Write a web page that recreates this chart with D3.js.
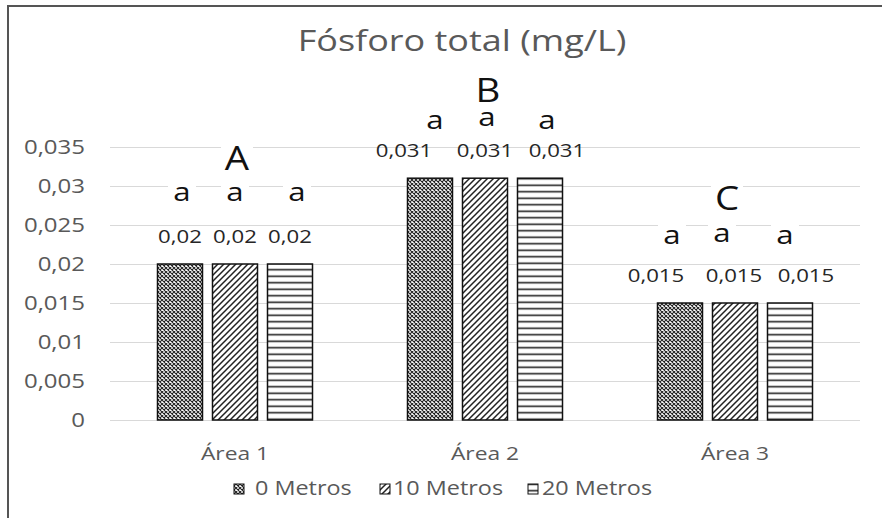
<!DOCTYPE html>
<html>
<head>
<meta charset="utf-8">
<script src="https://cdn.jsdelivr.net/npm/d3@7"></script>
<style>
  html, body { margin: 0; padding: 0; background: #fff; }
  svg { display: block; font-family: "Open Sans", Lato, sans-serif; }
</style>
</head>
<body>
<svg id="chart" width="882" height="518"></svg>
<script>
// Total phosphorus by area and distance
const categories = ["Área 1", "Área 2", "Área 3"];
const seriesNames = ["0 Metros", "10 Metros", "20 Metros"];
const values0m = [0.02, 0.031, 0.015];
const values10m = [0.02, 0.031, 0.015];
const values20m = [0.02, 0.031, 0.015];
const groupLetters = ["A", "B", "C"];
const barLetters = [["a", "a", "a"], ["a", "a", "a"], ["a", "a", "a"]];
const yTicks = [0, 0.005, 0.01, 0.015, 0.02, 0.025, 0.03, 0.035];
const titleText = "Fósforo total (mg/L)";

const seriesValues = [values0m, values10m, values20m];
const fmt = v => String(v).replace(".", ",");
const SX = 1.2; // horizontal widening of all lettering

const svg = d3.select("#chart");
const W = 882, H = 518;
const plot = { left: 110, right: 860, top: 147, bottom: 420 };

function label(parent, x, y, txt, size, color, anchor) {
  return parent.append("text")
    .attr("transform", `translate(${x},${y}) scale(${SX},1)`)
    .attr("text-anchor", anchor || "middle")
    .attr("font-size", size).attr("fill", color).text(txt);
}

// Frame (left and top edges)
svg.append("path")
  .attr("d", `M8,${H} L8,6 L${W},6`)
  .attr("fill", "none").attr("stroke", "#555").attr("stroke-width", 2);

// Hatch patterns
const defs = svg.append("defs");
const p0 = defs.append("pattern").attr("id", "pat0").attr("patternUnits", "userSpaceOnUse")
  .attr("width", 4).attr("height", 4);
p0.append("rect").attr("width", 4).attr("height", 4).attr("fill", "#fff");
p0.append("path").attr("d", "M0,0 L4,4 M4,0 L0,4").attr("stroke", "#222").attr("stroke-width", 1.1);
const p1 = defs.append("pattern").attr("id", "pat1").attr("patternUnits", "userSpaceOnUse")
  .attr("width", 6).attr("height", 6);
p1.append("rect").attr("width", 6).attr("height", 6).attr("fill", "#fff");
p1.append("path").attr("d", "M-1,7 L7,-1 M-1,1 L1,-1 M5,7 L7,5").attr("stroke", "#222").attr("stroke-width", 1.5);
const p2 = defs.append("pattern").attr("id", "pat2").attr("patternUnits", "userSpaceOnUse")
  .attr("width", 6).attr("height", 6.5);
p2.append("rect").attr("width", 6).attr("height", 6.5).attr("fill", "#fff");
p2.append("path").attr("d", "M0,3.25 L6,3.25").attr("stroke", "#222").attr("stroke-width", 1.6);
const patIds = ["url(#pat0)", "url(#pat1)", "url(#pat2)"];

// Scales
const y = d3.scaleLinear().domain([0, 0.035]).range([plot.bottom, plot.top]);
const x0 = d3.scaleBand().domain(categories).range([plot.left, plot.right]).padding(0);
const groupWidth = 155;
const x1 = d3.scaleBand().domain(seriesNames)
  .range([(x0.bandwidth() - groupWidth) / 2, (x0.bandwidth() + groupWidth) / 2])
  .paddingInner(10 / 55).paddingOuter(0);

// Gridlines
svg.append("g").selectAll("line").data(yTicks).join("line")
  .attr("x1", plot.left).attr("x2", plot.right)
  .attr("y1", d => Math.round(y(d)) + 0.5).attr("y2", d => Math.round(y(d)) + 0.5)
  .attr("stroke", "#d9d9d9").attr("stroke-width", 1);

// Y axis labels
const yAxis = d3.axisLeft(y).tickValues(yTicks).tickFormat(fmt).tickSize(0).tickPadding(0);
const gy = svg.append("g").attr("transform", "translate(85,0)").call(yAxis);
gy.select(".domain").remove();
gy.selectAll("text").attr("fill", "#595959").attr("font-size", 20)
  .attr("font-family", "'Open Sans', Lato, sans-serif")
  .attr("transform", `scale(${SX},1)`);

// X axis labels
const xAxis = d3.axisBottom(x0).tickSize(0).tickPadding(0);
const gx = svg.append("g").attr("transform", `translate(0,${plot.bottom + 27})`).call(xAxis);
gx.select(".domain").remove();
gx.selectAll("text").attr("fill", "#595959").attr("font-size", 19)
  .attr("font-family", "'Open Sans', Lato, sans-serif")
  .attr("transform", `scale(${SX},1)`);

// Bars
const groups = svg.append("g").selectAll("g").data(categories).join("g")
  .attr("transform", c => `translate(${x0(c)},0)`);
const barData = (c, ci) => seriesNames.map((s, si) => ({ s, si, ci, v: seriesValues[si][ci] }));
groups.selectAll("rect").data(barData).join("rect")
  .attr("x", d => x1(d.s)).attr("width", x1.bandwidth())
  .attr("y", d => y(d.v)).attr("height", d => y(0) - y(d.v))
  .attr("fill", d => patIds[d.si]).attr("stroke", "#111").attr("stroke-width", 1.5);

// Value labels (hand-placed offsets from each bar centre)
const valueNudgeX = [[0, 0, 0], [-26, 0, 17], [-24, -1, 16]];
groups.each(function (c, ci) {
  const g = d3.select(this);
  barData(c, ci).forEach(d => {
    label(g, x1(d.s) + x1.bandwidth() / 2 + valueNudgeX[ci][d.si], y(d.v) - 21, fmt(d.v), 18.5, "#262626");
  });
});

// Significance letters per bar (lowercase) and per area (uppercase)
const smallLift = [71, 57, 67];
const bigLift = [106, 88, 105];
const smallNudgeX = [[2, 0, 7], [5, 2, 7], [-8, -13, -5]];
const smallNudgeY = [[0, 0, 0], [0, -3, 0], [0, -2, 0]];
const bigNudgeX = [2, 3, -8];
const letterLayer = svg.append("g");
categories.forEach((c, ci) => {
  seriesNames.forEach((s, si) => {
    const v = seriesValues[si][ci];
    const cx = x0(c) + x1(s) + x1.bandwidth() / 2 + smallNudgeX[ci][si];
    const cy = y(v) - smallLift[ci] + smallNudgeY[ci][si];
    letterLayer.append("rect").attr("x", cx - 14).attr("y", cy - 12).attr("width", 28).attr("height", 24).attr("fill", "#fff");
    label(letterLayer, cx, cy + 8, barLetters[ci][si], 26, "#111");
  });
  const vMid = seriesValues[1][ci];
  const gx0 = x0(c) + x0.bandwidth() / 2 + bigNudgeX[ci];
  const gy0 = y(vMid) - bigLift[ci];
  letterLayer.append("rect").attr("x", gx0 - 16).attr("y", gy0 - 15).attr("width", 32).attr("height", 30).attr("fill", "#fff");
  label(letterLayer, gx0, gy0 + 11.5, groupLetters[ci], 32, "#111");
});

// Title
label(svg, 462, 51, titleText, 30, "#595959");

// Legend
const legendIconX = [234, 380, 528];
const legendTextX = [255, 393, 542];
seriesNames.forEach((s, i) => {
  svg.append("rect").attr("x", legendIconX[i]).attr("y", 484).attr("width", 10).attr("height", 10)
    .attr("fill", patIds[i]).attr("stroke", "#111").attr("stroke-width", 1);
  label(svg, legendTextX[i], 495, s, 19.5, "#595959", "start");
});
</script>
</body>
</html>
